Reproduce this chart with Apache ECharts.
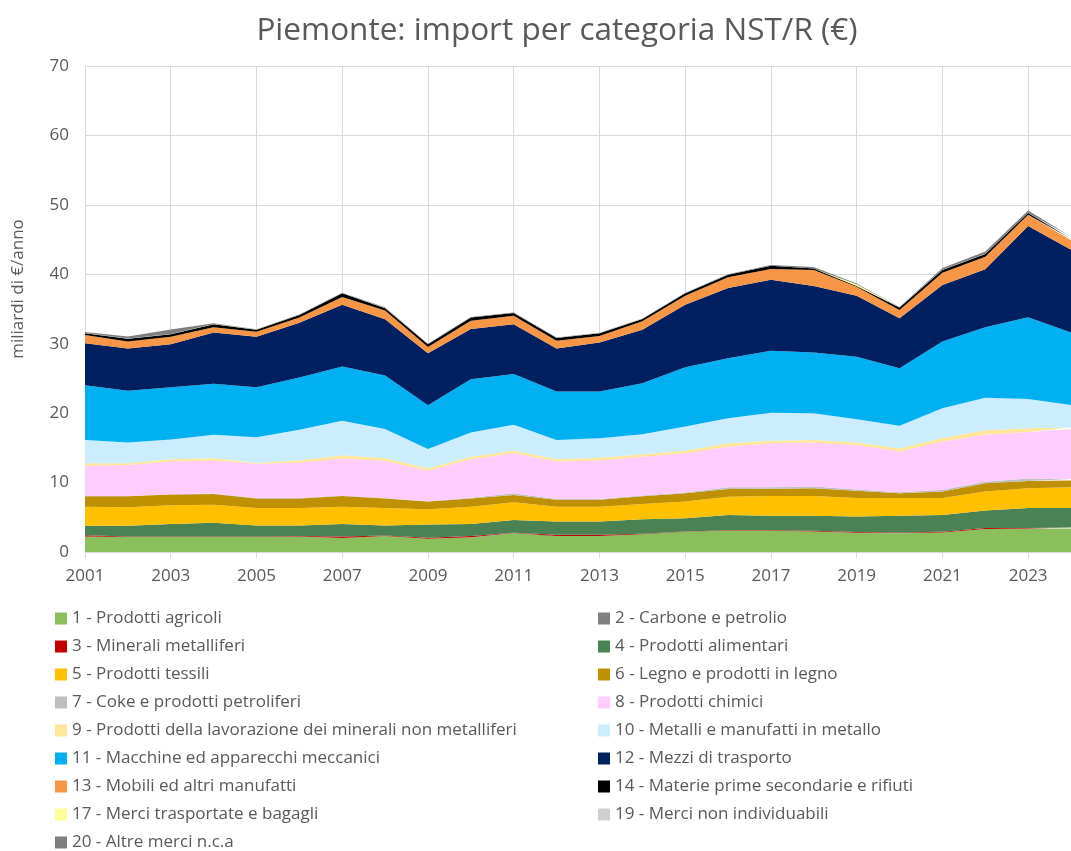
<!DOCTYPE html>
<html>
<head>
<meta charset="utf-8">
<script src="https://cdn.jsdelivr.net/npm/echarts@6/dist/echarts.min.js"></script>
<style>html,body{margin:0;padding:0;background:#fff;}#c{width:1071px;height:851px;}</style>
</head>
<body>
<div id="c"></div>
<script>
const years = ['2001','2002','2003','2004','2005','2006','2007','2008','2009','2010','2011','2012','2013','2014','2015','2016','2017','2018','2019','2020','2021','2022','2023','2024'];
const yTicks = [0,10,20,30,40,50,60,70];
const names = ['1 - Prodotti agricoli','2 - Carbone e petrolio','3 - Minerali metalliferi','4 - Prodotti alimentari','5 - Prodotti tessili','6 - Legno e prodotti in legno','7 - Coke e prodotti petroliferi','8 - Prodotti chimici','9 - Prodotti della lavorazione dei minerali non metalliferi','10 - Metalli e manufatti in metallo','11 - Macchine ed apparecchi meccanici','12 - Mezzi di trasporto','13 - Mobili ed altri manufatti','14 - Materie prime secondarie e rifiuti','17 - Merci trasportate e bagagli','19 - Merci non individuabili','20 - Altre merci n.c.a'];
const colors = ['#8BBF5C','#808080','#C00000','#4B8254','#FFC000','#BF9000','#BFBFBF','#FFCCFF','#FFE699','#CCECFF','#00B0F0','#002060','#F79646','#000000','#FFFF99','#D0D0D0','#7F7F7F'];

const s01 = [2.2,2.15,2.15,2.15,2.15,2.2,2.0,2.3,1.9,2.1,2.7,2.3,2.3,2.55,2.9,3.05,3.05,2.95,2.75,2.7,2.8,3.3,3.35,3.4];
const s02 = [0.02,0.02,0.02,0.02,0.02,0.02,0.02,0.02,0.02,0.02,0.02,0.02,0.02,0.02,0.02,0.02,0.02,0.02,0.02,0.02,0.02,0.02,0.02,0.02];
const s03 = [0.2,0.05,0.05,0.05,0.05,0.1,0.2,0.05,0.15,0.2,0.05,0.15,0.15,0.05,0.05,0.05,0.05,0.1,0.1,0.1,0.1,0.15,0.1,0.1];
const s04 = [1.35,1.55,1.8,2.0,1.6,1.5,1.8,1.45,1.9,1.7,1.85,1.92,1.92,2.1,1.9,2.2,2.1,2.15,2.25,2.4,2.4,2.5,2.85,2.8];
const s05 = [2.75,2.68,2.7,2.6,2.5,2.5,2.5,2.5,2.2,2.5,2.55,2.13,2.13,2.2,2.4,2.65,2.85,2.85,2.65,2.55,2.45,2.75,2.85,3.0];
const s06 = [1.5,1.57,1.55,1.55,1.4,1.4,1.55,1.4,1.1,1.2,1.05,1.0,1.0,1.1,1.2,1.1,1.05,1.1,1.05,0.7,0.95,1.2,1.05,0.97];
const s07 = [0.05,0.05,0.05,0.05,0.05,0.05,0.05,0.05,0.05,0.1,0.25,0.1,0.1,0.1,0.1,0.25,0.2,0.25,0.2,0.15,0.25,0.2,0.35,0.23];
const s08 = [4.35,4.45,4.7,4.75,4.95,5.1,5.35,5.35,4.4,5.55,5.75,5.4,5.55,5.6,5.65,5.85,6.35,6.35,6.4,5.85,6.95,6.75,6.7,7.15];
const s09 = [0.35,0.25,0.35,0.35,0.15,0.3,0.45,0.4,0.35,0.35,0.35,0.35,0.4,0.35,0.35,0.5,0.35,0.35,0.35,0.45,0.5,0.65,0.55,0.25];
const s10 = [3.35,3.0,2.85,3.35,3.65,4.45,5.0,4.2,2.75,3.5,3.75,2.75,2.8,2.9,3.5,3.6,4.05,3.85,3.35,3.25,4.3,4.7,4.2,3.27];
const s11 = [7.9,7.45,7.5,7.35,7.2,7.5,7.8,7.7,6.3,7.65,7.3,7.0,6.75,7.35,8.55,8.65,8.9,8.75,9.0,8.3,9.6,10.15,11.8,10.43];
const s12 = [6.05,6.1,6.2,7.4,7.3,7.9,8.9,8.1,7.5,7.25,7.2,6.2,7.05,7.7,9.0,10.1,10.25,9.6,8.8,7.2,8.15,8.35,13.15,11.9];
const s13 = [1.2,1.0,1.1,0.75,0.7,0.75,1.1,1.25,0.9,1.2,1.2,1.1,0.95,1.2,1.3,1.55,1.55,2.3,1.3,1.2,1.75,1.8,1.6,1.4];
const s14 = [0.25,0.4,0.35,0.45,0.3,0.35,0.55,0.35,0.4,0.45,0.4,0.4,0.4,0.35,0.35,0.35,0.45,0.2,0.1,0.35,0.4,0.4,0.25,0.2];
const s17 = [0.01,0.01,0.01,0.01,0.01,0.01,0.01,0.01,0.01,0.01,0.01,0.01,0.01,0.01,0.01,0.01,0.01,0.01,0.25,0.01,0.01,0.01,0.01,0.01];
const s19 = [0.01,0.01,0.01,0.01,0.01,0.01,0.01,0.01,0.01,0.01,0.01,0.01,0.01,0.01,0.01,0.01,0.01,0.01,0.01,0.01,0.01,0.01,0.01,0.01];
const s20 = [0.15,0.3,0.65,0.1,0.05,0.05,0.05,0.1,0.05,0.05,0.05,0.05,0.05,0.05,0.05,0.05,0.1,0.2,0.1,0.05,0.25,0.35,0.35,0.25];

const allData = [s01,s02,s03,s04,s05,s06,s07,s08,s09,s10,s11,s12,s13,s14,s17,s19,s20];

const FONT = '"Open Sans", Lato, sans-serif';
const TXT = '#595959';

const series = allData.map((d, i) => ({
  name: names[i],
  type: 'line',
  stack: 'tot',
  data: d,
  symbol: 'none',
  smooth: false,
  lineStyle: { width: 0 },
  areaStyle: { color: colors[i], opacity: 1 },
  itemStyle: { color: colors[i] },
  emphasis: { disabled: true },
  z: 2
}));

const leftNames = names.filter((_, i) => i % 2 === 0);
const rightNames = names.filter((_, i) => i % 2 === 1);

const legendBase = {
  type: 'plain',
  orient: 'vertical',
  top: 610,
  height: 241,
  padding: 0,
  itemWidth: 12,
  itemHeight: 12,
  itemGap: 11,
  icon: 'rect',
  selectedMode: false,
  textStyle: { color: TXT, fontSize: 17, fontFamily: FONT, lineHeight: 17, padding: [0,0,0,0] }
};

const option = {
  animation: false,
  color: colors,
  title: {
    text: 'Piemonte: import per categoria NST/R (€)',
    left: 552, textAlign: 'center', top: 10,
    textStyle: { color: TXT, fontSize: 31.5, fontWeight: 'normal', fontFamily: FONT }
  },
  legend: [
    Object.assign({}, legendBase, { left: 55, data: leftNames }),
    Object.assign({}, legendBase, { left: 598, data: rightNames })
  ],
  grid: { left: 85, right: -12.2, top: 66, bottom: 299, containLabel: false },
  xAxis: {
    type: 'category',
    data: years,
    boundaryGap: false,
    axisLine: { show: true, lineStyle: { color: '#D9D9D9', width: 1 } },
    axisTick: { show: true, interval: 1, length: 6, lineStyle: { color: '#D9D9D9' } },
    axisLabel: { interval: 1, color: TXT, fontSize: 17, fontFamily: FONT, margin: 16 },
    splitLine: { show: true, interval: 1, lineStyle: { color: '#D9D9D9', width: 1 } }
  },
  yAxis: {
    type: 'value',
    min: yTicks[0], max: yTicks[yTicks.length - 1], interval: 10,
    name: 'miliardi di €/anno',
    nameLocation: 'middle',
    nameGap: 58,
    nameTextStyle: { color: TXT, fontSize: 17, fontFamily: FONT, padding: [0,0,0,40] },
    axisLine: { show: false },
    axisTick: { show: false },
    axisLabel: { color: TXT, fontSize: 17, fontFamily: FONT, margin: 16 },
    splitLine: { show: true, lineStyle: { color: '#D9D9D9', width: 1 } }
  },
  series: series
};

const chart = echarts.init(document.getElementById('c'), null, { renderer: 'canvas' });
chart.setOption(option);
</script>
</body>
</html>
